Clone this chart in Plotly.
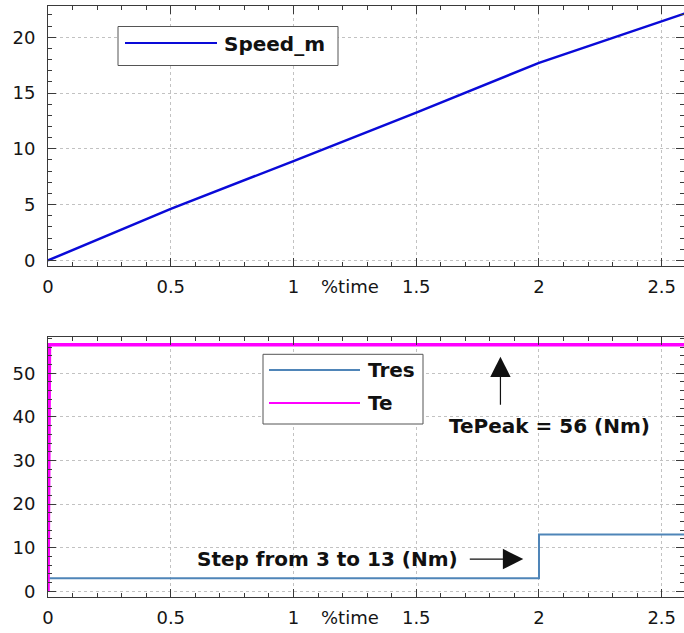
import plotly.graph_objects as go

# ---------------- data ----------------
speed_t = [0, 0.5, 1.0, 1.5, 2.0, 2.6]
speed_m = [0, 4.62, 8.9, 13.25, 17.7, 22.17]

tres_t = [0, 2.0, 2.0, 2.6]
tres_v = [3, 3, 13, 13]

te_t = [0, 0.006, 2.6]
te_v = [0, 56.5, 56.5]

x_ticks = [0, 0.5, 1, 1.5, 2, 2.5]
x_tick_labels = ["0", "0.5", "1", "1.5", "2", "2.5"]

# ---------------- layout helpers ----------------
W, H = 684, 633
ML, MR, MT, MB = 48, 0, 6, 36
PW, PH = W - ML - MR, H - MT - MB


def PX(px):
    return (px - ML) / PW


def PY(py):
    return (H - MB - py) / PH


FONT = "DejaVu Sans"
AX = "#3a3a3a"

fig = go.Figure()
fig.add_trace(go.Scatter(x=speed_t, y=speed_m, mode="lines", name="Speed_m",
                         line=dict(color="#0a0ad8", width=2.5),
                         xaxis="x", yaxis="y", showlegend=False))
fig.add_trace(go.Scatter(x=tres_t, y=tres_v, mode="lines", name="Tres",
                         line=dict(color="#4f85b8", width=2),
                         xaxis="x2", yaxis="y2", showlegend=False))
fig.add_trace(go.Scatter(x=te_t, y=te_v, mode="lines", name="Te",
                         line=dict(color="#ff00ff", width=3.5),
                         xaxis="x2", yaxis="y2", showlegend=False))


def axis(**kw):
    d = dict(showline=True, mirror="allticks", linecolor=AX, linewidth=1,
             ticks="inside", ticklen=8, tickcolor=AX, tickwidth=1,
             showgrid=True, gridcolor="#c2c2c2", griddash="3px,3px", gridwidth=1,
             zeroline=False, tickfont=dict(family=FONT, size=18, color="#151515"),
             minor=dict(ticks="inside", ticklen=4, tickcolor=AX, showgrid=False))
    d.update(kw)
    return d


xr = [0, (683.5 - ML) / 245.3]
top_dom = [(H - MB - 266) / PH, 1]
bot_dom = [0, (H - MB - 337) / PH]

fig.update_layout(
    width=W, height=H, margin=dict(l=ML, r=MR, t=MT, b=MB),
    paper_bgcolor="white", plot_bgcolor="white",
    xaxis=axis(range=xr, tickvals=x_ticks, ticktext=x_tick_labels, anchor="y",
               minor=dict(ticks="inside", ticklen=4, tickcolor=AX, dtick=0.1, showgrid=False),
               ticklabelstandoff=4),
    yaxis=axis(range=[-0.5, 22.8], dtick=5, domain=top_dom, anchor="x",
               minor=dict(ticks="inside", ticklen=4, tickcolor=AX, dtick=1, showgrid=False),
               ticklabelstandoff=8),
    xaxis2=axis(range=xr, tickvals=x_ticks, ticktext=x_tick_labels, anchor="y2",
                minor=dict(ticks="inside", ticklen=4, tickcolor=AX, dtick=0.1, showgrid=False),
                ticklabelstandoff=4),
    yaxis2=axis(range=[-1.3, 58.3], dtick=10, domain=bot_dom, anchor="x2",
                minor=dict(ticks="inside", ticklen=4, tickcolor=AX, dtick=2, showgrid=False),
                ticklabelstandoff=8),
)

shapes = []
annos = []

# legend – top plot
shapes.append(dict(type="rect", xref="paper", yref="paper",
                   x0=PX(118), x1=PX(338), y0=PY(65.5), y1=PY(26.5),
                   line=dict(color="#555", width=1), fillcolor="white", layer="above"))
shapes.append(dict(type="line", xref="paper", yref="paper",
                   x0=PX(125), x1=PX(217), y0=PY(43), y1=PY(43),
                   line=dict(color="#0a0ad8", width=2), layer="above"))
annos.append(dict(text="<b>Speed_m</b>", xref="paper", yref="paper", x=PX(222), y=PY(44),
                  xanchor="left", yanchor="middle", showarrow=False,
                  font=dict(family=FONT, size=20, color="#111")))

# legend – bottom plot
shapes.append(dict(type="rect", xref="paper", yref="paper",
                   x0=PX(263), x1=PX(423), y0=PY(424), y1=PY(354.3),
                   line=dict(color="#555", width=1), fillcolor="white", layer="above"))
shapes.append(dict(type="line", xref="paper", yref="paper",
                   x0=PX(269), x1=PX(360), y0=PY(370), y1=PY(370),
                   line=dict(color="#4f85b8", width=2), layer="above"))
shapes.append(dict(type="line", xref="paper", yref="paper",
                   x0=PX(269), x1=PX(360), y0=PY(403), y1=PY(403),
                   line=dict(color="#ff00ff", width=2), layer="above"))
annos.append(dict(text="<b>Tres</b>", xref="paper", yref="paper", x=PX(366), y=PY(370),
                  xanchor="left", yanchor="middle", showarrow=False,
                  font=dict(family=FONT, size=20, color="#111")))
annos.append(dict(text="<b>Te</b>", xref="paper", yref="paper", x=PX(366), y=PY(403),
                  xanchor="left", yanchor="middle", showarrow=False,
                  font=dict(family=FONT, size=20, color="#111")))

# %time labels
for xa, ya in (("x", "y domain"), ("x2", "y2 domain")):
    annos.append(dict(text="%time", xref=xa, yref=ya, x=1.231, y=0, yshift=-8,
                      xanchor="center", yanchor="top", showarrow=False,
                      font=dict(family=FONT, size=18, color="#151515")))

# TePeak annotation
annos.append(dict(text="", xref="x2", yref="y2", axref="x2", ayref="y2",
                  x=1.843, y=53.8, ax=1.843, ay=42.4, showarrow=True,
                  arrowhead=2, arrowsize=3.4, arrowwidth=1.2, arrowcolor="#111"))
annos.append(dict(text="<b>TePeak = 56 (Nm)</b>", xref="x2", yref="y2", x=2.042, y=37.9,
                  xanchor="center", yanchor="middle", showarrow=False,
                  font=dict(family=FONT, size=20, color="#111")))

# Step annotation
annos.append(dict(text="", xref="x2", yref="y2", axref="x2", ayref="y2",
                  x=1.936, y=7.4, ax=1.712, ay=7.4, showarrow=True,
                  arrowhead=2, arrowsize=3.4, arrowwidth=1.2, arrowcolor="#111"))
annos.append(dict(text="<b>Step from 3 to 13 (Nm)</b>", xref="x2", yref="y2", x=1.139, y=7.4,
                  xanchor="center", yanchor="middle", showarrow=False,
                  font=dict(family=FONT, size=20, color="#111")))

fig.update_layout(shapes=shapes, annotations=annos)
fig.write_html("out.html")
